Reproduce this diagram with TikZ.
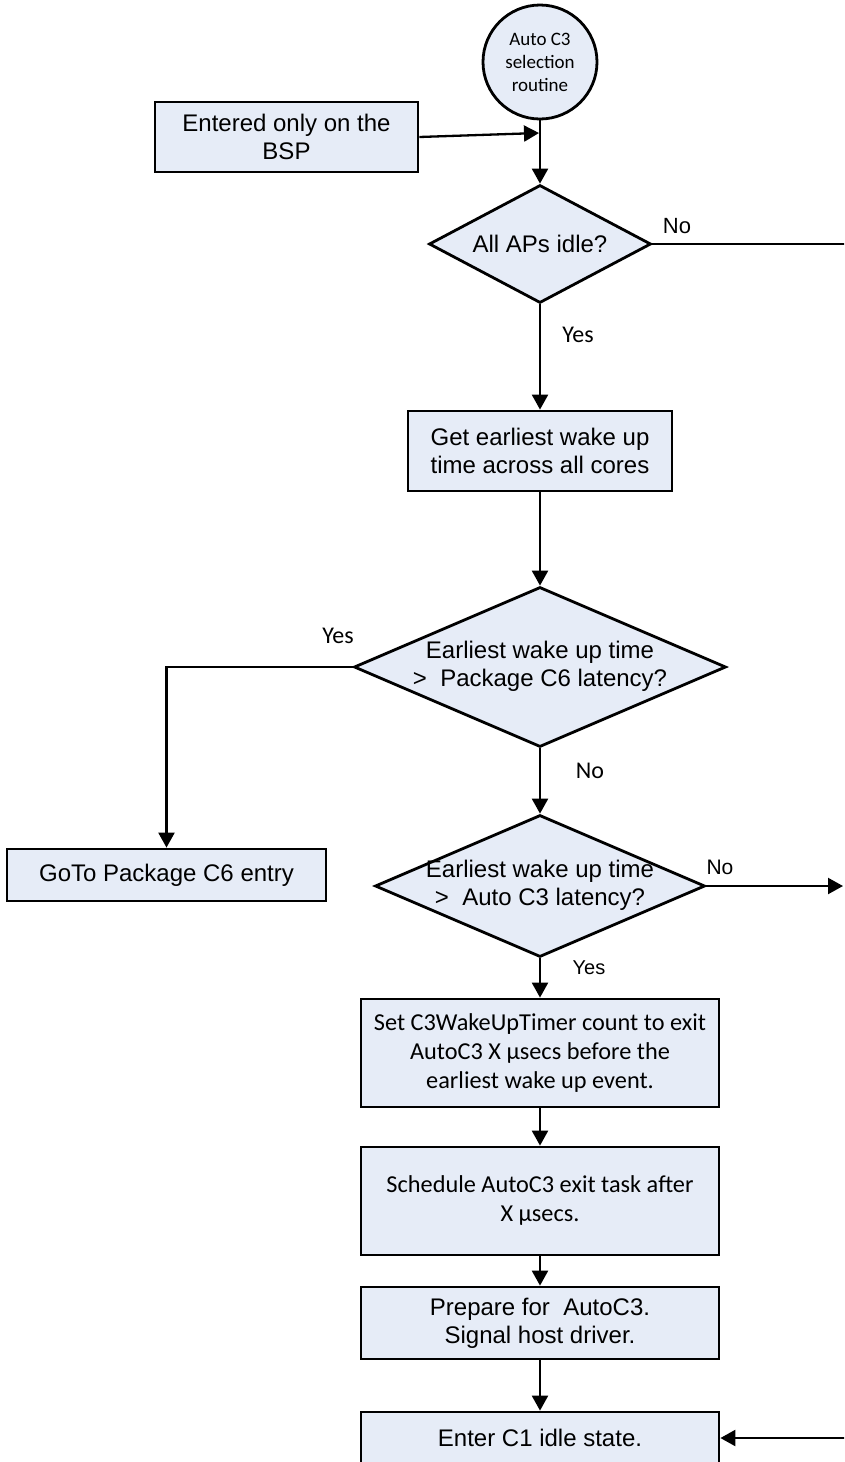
\documentclass[tikz,border=0pt]{standalone}
\usepackage{fontspec}
\setmainfont{Liberation Sans}
\newfontfamily\carlito{Carlito}
\usetikzlibrary{shapes.geometric,arrows.meta}

\definecolor{boxfill}{RGB}{230,236,247}

\tikzset{
  every node/.style={inner sep=0pt},
  proc/.style={draw, line width=2.8pt, fill=boxfill, rectangle, align=center},
  decision/.style={draw, line width=2.8pt, fill=boxfill, diamond},
  terminal/.style={draw, line width=2.8pt, fill=boxfill, circle, align=center,
    minimum size=114pt, font=\carlito\fontsize{19}{23}\selectfont},
  flow/.style={line width=2.3pt, -{Triangle[length=15pt,width=16pt]}},
  sanstext/.style={font=\fontsize{24}{28}\selectfont},
  caltext/.style={font=\carlito\fontsize{24.3}{29}\selectfont},
  caltag/.style={font=\carlito\fontsize{24}{29}\selectfont},
  sanstag/.style={font=\fontsize{22}{26}\selectfont},
}

% two-line text that takes no width inside a diamond
\newcommand{\dtext}[2]{\makebox[0pt]{\fontsize{24}{28}\selectfont
  \begin{tabular}{@{}c@{}}#1\\#2\end{tabular}}}

\begin{document}
\begin{tikzpicture}[x=1pt,y=-1pt]
  \clip (0,0) rectangle (844,1462);
  \fill[white] (0,0) rectangle (844,1462);

  % nodes
  \node[terminal] (start) at (540,62) {Auto C3\\selection\\routine};
  \node[proc, sanstext, minimum width=263pt, minimum height=70pt] (bsp) at (286.5,137)
    {Entered only on the\\BSP};
  \node[decision, minimum width=222pt, minimum height=118pt] (d1) at (540,244)
    {\makebox[0pt]{\fontsize{24}{28}\selectfont All APs idle?}};
  \node[proc, sanstext, minimum width=264pt, minimum height=80pt] (wake) at (540,451)
    {Get earliest wake up\\time across all cores};
  \node[decision, minimum width=372pt, minimum height=160pt] (d2) at (540,667)
    {\dtext{Earliest wake up time}{>\ \ Package C6 latency?}};
  \node[proc, sanstext, minimum width=319pt, minimum height=52pt] (goto) at (166.5,875)
    {GoTo Package C6 entry};
  \node[decision, minimum width=330pt, minimum height=142pt] (d3) at (540,886)
    {\raisebox{-2pt}{\dtext{Earliest wake up time}{>\ \ Auto C3 latency?}}};
  \node[proc, caltext, minimum width=358pt, minimum height=108pt] (timer) at (540,1053)
    {Set C3WakeUpTimer count to exit\\AutoC3 X µsecs before the\\earliest wake up event.};
  \node[proc, caltext, minimum width=358pt, minimum height=108pt] (sched) at (540,1201)
    {Schedule AutoC3 exit task after\\X µsecs.};
  \node[proc, sanstext, minimum width=358pt, minimum height=72pt] (prep) at (540,1323)
    {Prepare for\ \ AutoC3.\\Signal host driver.};
  \node[proc, sanstext, minimum width=358pt, minimum height=52pt] (c1) at (540,1438)
    {Enter C1 idle state.};

  % branch labels
  \node[sanstag] (no1) at (677,226) {No};
  \node[caltag] (yes1) at (578,335) {Yes};
  \node[caltag] (yes2) at (338,636) {Yes};
  \node[caltag] (no2) at (590,771) {No};
  \node[font=\fontsize{21}{25}\selectfont] (no3) at (720,867) {No};
  \node[font=\fontsize{20}{24}\selectfont] (yes3) at (589,968) {Yes};

  % helper points for connectors
  \coordinate (join) at (539,133);
  \coordinate (rtop) at (870,244);
  \coordinate (rbot) at (870,1438);
  \coordinate (out3) at (843,886);

  % connectors
  \draw[flow] (start) -- (d1);
  \draw[flow] (bsp.east) -- (join);
  \draw[flow] (d1) -- (wake);
  \draw[flow] (d1.east) -- (rtop) -- (rbot) -- (c1.east);
  \draw[flow] (wake) -- (d2);
  \draw[flow] (d2.west) -| (goto.north);
  \draw[flow] (d2) -- (d3);
  \draw[flow] (d3.east) -- (out3);
  \draw[flow] (d3) -- (timer);
  \draw[flow] (timer) -- (sched);
  \draw[flow] (sched) -- (prep);
  \draw[flow] (prep) -- (c1);
\end{tikzpicture}
\end{document}
